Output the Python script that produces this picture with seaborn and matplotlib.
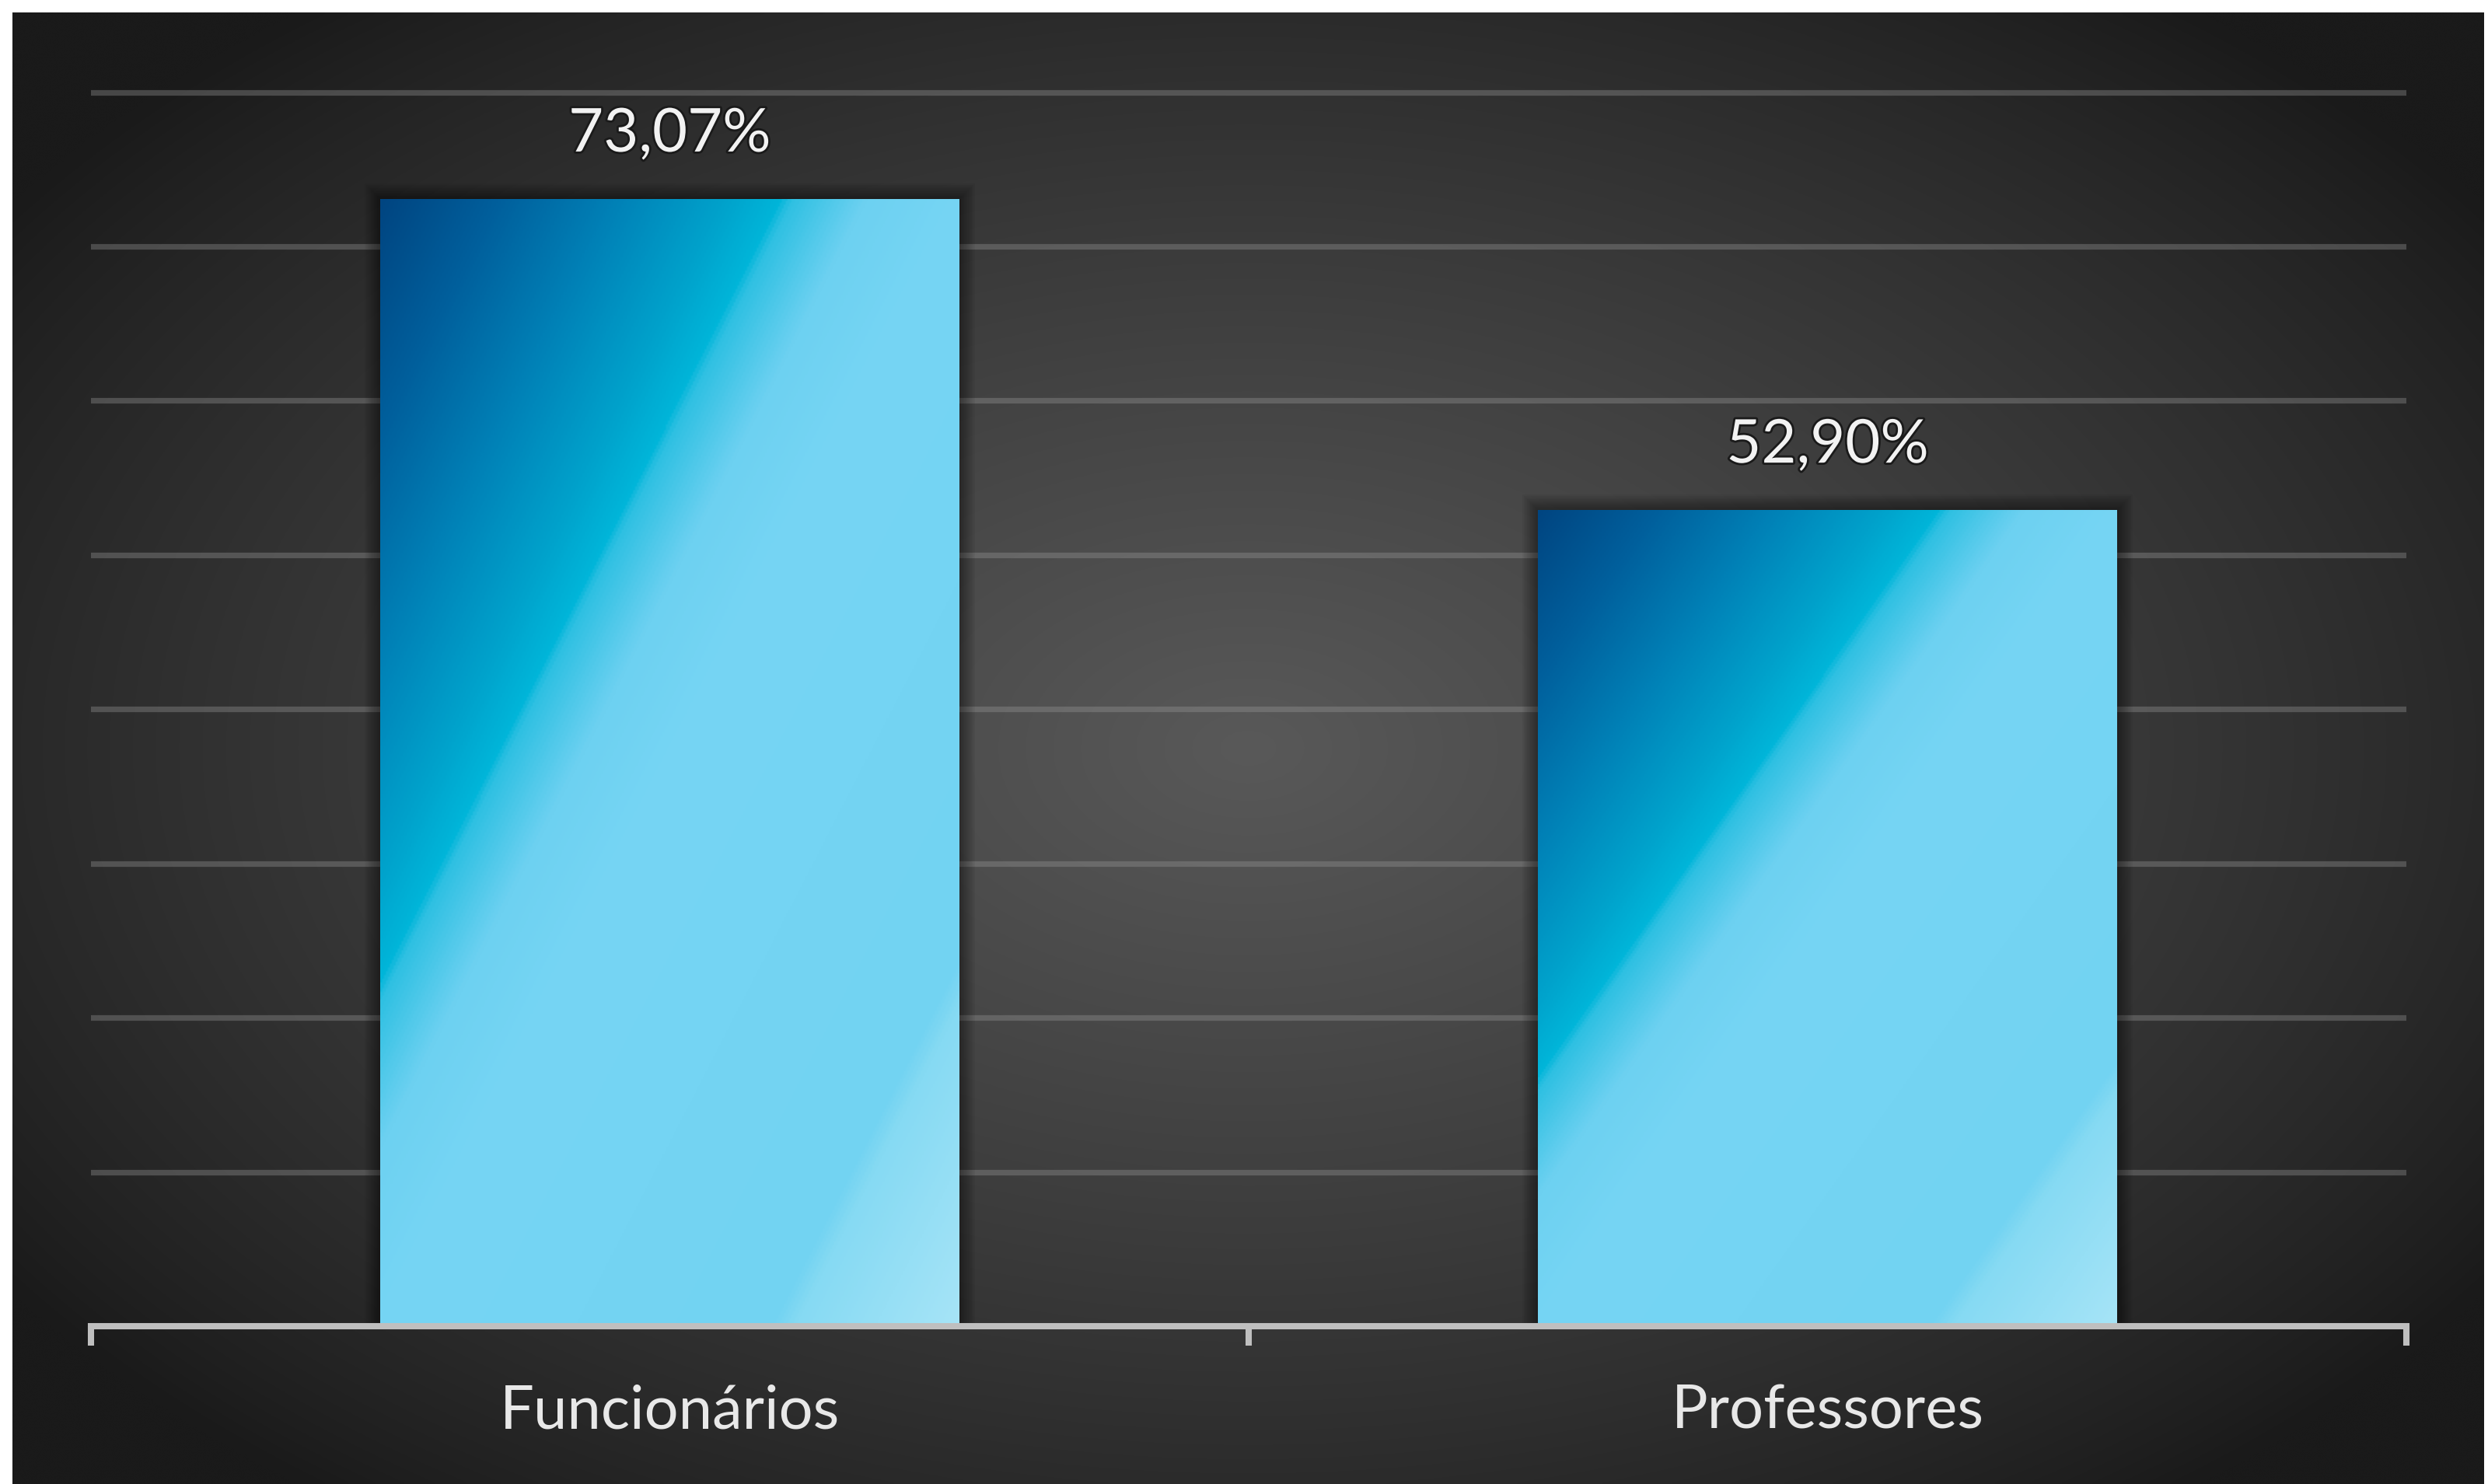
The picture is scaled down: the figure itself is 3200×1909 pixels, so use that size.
import numpy as np
import seaborn as sns
import matplotlib.pyplot as plt
from matplotlib.colors import LinearSegmentedColormap
from matplotlib.patches import Rectangle
import matplotlib.patheffects as pe

# data
categories = ["Funcionários", "Professores"]
percentages = [73.07, 52.90]
value_labels = ["73,07%", "52,90%"]
y_ticks = [0, 10, 20, 30, 40, 50, 60, 70, 80]

W, H, DPI = 3200, 1909, 200

sns.set_theme(style="dark")
plt.rcParams["font.family"] = ["Lato", "DejaVu Sans"]

fig = plt.figure(figsize=(W / DPI, H / DPI), dpi=DPI, facecolor="white")

# dark radial backdrop of the chart area
bg = fig.add_axes([16 / W, 0, (3195 - 16) / W, (H - 16) / H], zorder=0)
gx, gy = np.meshgrid(np.linspace(-1, 1, 800), np.linspace(-1, 1, 480))
r = np.sqrt(gx ** 2 + (gy / 1.05) ** 2)
shade = (26 + 63 * np.clip(1 - r / 1.22, 0, 1) ** 0.85) / 255
bg.imshow(np.dstack([shade] * 3), aspect="auto", extent=(0, 1, 0, 1),
          interpolation="bicubic")
bg.set_axis_off()

# plotting area
left_px, right_px, base_px = 117, 3095, 1706
y_top = 81
px_per_unit = (1706 - 118.5) / 80
top_px = base_px - y_top * px_per_unit
ax = fig.add_axes([left_px / W, (H - base_px) / H,
                   (right_px - left_px) / W, (base_px - top_px) / H], zorder=1)
ax.set_facecolor("none")

sns.barplot(x=categories, y=percentages, width=0.5, color="#72d3f2",
            saturation=1, linewidth=0, ax=ax, zorder=3)

bar_cmap = LinearSegmentedColormap.from_list("bar", [
    (0.00, "#004581"),
    (0.10, "#005f9c"),
    (0.20, "#0080b6"),
    (0.30, "#00a3cc"),
    (0.345, "#00b5d9"),
    (0.355, "#2ec0e2"),
    (0.42, "#6dd1f1"),
    (0.50, "#76d5f4"),
    (0.84, "#72d3f2"),
    (0.86, "#86daf3"),
    (1.00, "#a6e4f7"),
])
u, v = np.meshgrid(np.linspace(0, 1, 300), np.linspace(0, 1, 600))
grad = bar_cmap((u + v) / 2)

px_x = 2.0 / (right_px - left_px)
px_y = 1.0 / px_per_unit
bars = list(ax.patches)
for bar in bars:
    x0, w, h = bar.get_x(), bar.get_width(), bar.get_height()
    # soft shadow around each bar, built from stacked translucent layers
    for grow in range(20, 0, -2):
        ax.add_patch(Rectangle((x0 - grow * px_x, 0), w + 2 * grow * px_x,
                               h + grow * px_y, color="black", alpha=0.045,
                               lw=0, zorder=2.9))
    img = ax.imshow(grad, extent=(x0, x0 + w, 0, h), origin="upper",
                    aspect="auto", zorder=3.1, interpolation="bilinear")
    img.set_clip_path(bar)

for i, (val, lbl) in enumerate(zip(percentages, value_labels)):
    ax.annotate(lbl, (i, val), xytext=(0, 22), textcoords="offset points",
                ha="center", va="baseline", fontsize=28, color="#f2f2f2",
                path_effects=[pe.withStroke(linewidth=2, foreground="#1a1a1a")])

ax.set_xlim(-0.5, 1.5)
ax.set_ylim(0, y_top)
ax.set_yticks(y_ticks)
ax.yaxis.grid(True, color="#999999", alpha=0.36, linewidth=2.6)
ax.xaxis.grid(False)
ax.set_axisbelow(True)
ax.tick_params(axis="y", length=0, labelleft=False)

ax.set_xticks([-0.5, 0.5, 1.5])
ax.set_xticklabels([])
ax.set_xticks([0, 1], minor=True)
ax.set_xticklabels(categories, minor=True)
ax.tick_params(axis="x", which="major", direction="out", length=9, width=2.9,
               color="#bfbfbf", bottom=True)
ax.tick_params(axis="x", which="minor", length=0, pad=27, labelsize=28,
               labelcolor="#e8e8e8")
ax.set_xlabel("")
ax.set_ylabel("")

for side in ("left", "right", "top"):
    ax.spines[side].set_visible(False)
ax.spines["bottom"].set_color("#bfbfbf")
ax.spines["bottom"].set_linewidth(2.9)
ax.spines["bottom"].set_zorder(4)

fig.savefig("out.png", dpi=DPI, facecolor="white")
